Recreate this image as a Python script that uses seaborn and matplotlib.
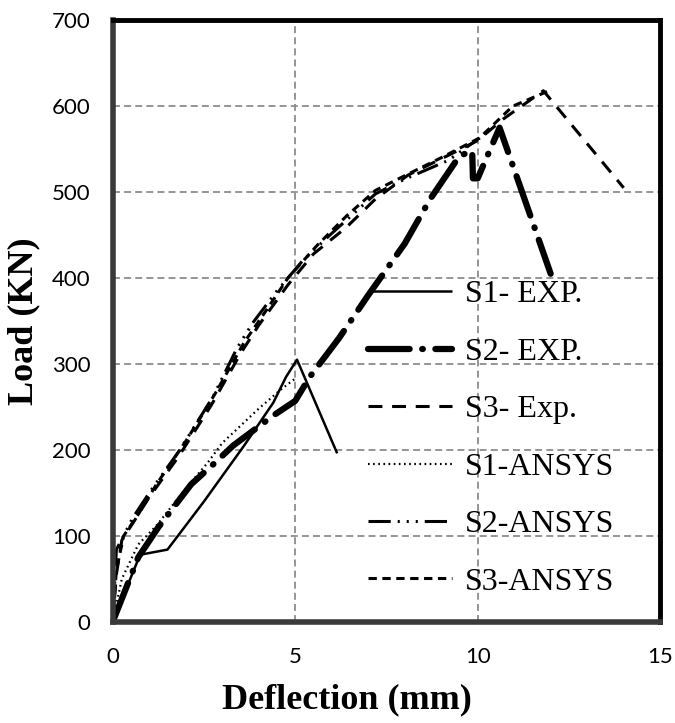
import matplotlib
matplotlib.use("Agg")
import matplotlib.pyplot as plt
import seaborn as sns
import numpy as np

# ---- data ----
s1_exp_x = [0, 0.75, 1.5, 2.5, 3.6, 4.4, 4.75, 5.05, 6.15]
s1_exp_y = [0, 78, 84, 140, 205, 255, 285, 305, 196]

s2_exp_x = [0, 0.7, 1.25, 2.15, 2.8, 3.3, 4.4, 5.0, 5.4, 6.2, 7.0, 8.0, 8.7, 9.5, 9.85, 9.87, 10.0, 10.6, 12.0]
s2_exp_y = [0, 75, 110, 160, 185, 205, 240, 257, 285, 330, 380, 440, 492, 542, 548, 516, 516, 575, 405]

s3_exp_x = [0, 0.1, 0.25, 0.6, 1.0, 1.8, 2.7, 3.5, 4.0, 4.8, 5.5, 6.4, 7.2, 8.1, 9.3, 10.0, 10.7, 11.8, 14.0]
s3_exp_y = [0, 55, 95, 118, 145, 192, 252, 312, 345, 392, 428, 459, 492, 520, 545, 560, 585, 618, 505]

s1_ans_x = [0, 0.25, 0.7, 1.2, 2.0, 2.6, 3.0, 4.0, 4.6, 5.0]
s1_ans_y = [0, 50, 90, 112, 155, 185, 208, 248, 270, 283]

s2_ans_x = [0, 0.1, 0.55, 1.0, 1.84, 2.75, 3.4, 3.84, 4.5, 5.2, 5.95, 7.2, 8.0, 9.2, 10.05]
s2_ans_y = [0, 84, 121, 150, 200, 262, 318, 348, 385, 420, 450, 498, 515, 537, 563]

s3_ans_x = [0, 0.1, 0.3, 0.7, 1.2, 2.0, 2.8, 3.6, 4.2, 4.8, 5.6, 6.4, 7.2, 7.95, 9.0, 10.05, 10.96, 11.9]
s3_ans_y = [0, 60, 100, 125, 160, 210, 265, 325, 362, 400, 438, 472, 502, 518, 540, 563, 600, 617]

labels = ["S1- EXP.", "S2- EXP.", "S3- Exp.", "S1-ANSYS", "S2-ANSYS", "S3-ANSYS"]
x_ticks = [0, 5, 10, 15]
y_ticks = [0, 100, 200, 300, 400, 500, 600, 700]

# ---- styling ----
sns.set_theme(style="white")
plt.rcParams["lines.scale_dashes"] = False

fig = plt.figure(figsize=(6.75, 7.23), dpi=100)
ax = fig.add_axes([0.167, 0.140, 0.811, 0.832])

series = [
    (s1_exp_x, s1_exp_y, 1.8, None, "butt"),
    (s2_exp_x, s2_exp_y, 4.5, (0, (30, 9, 0.5, 9)), "round"),
    (s3_exp_x, s3_exp_y, 2.2, (0, (10, 7)), "butt"),
    (s1_ans_x, s1_ans_y, 1.6, (0, (1.2, 2.5)), "butt"),
    (s2_ans_x, s2_ans_y, 2.2, (0, (16, 5, 1.5, 5, 1.5, 5, 1.5, 5)), "butt"),
    (s3_ans_x, s3_ans_y, 2.2, (0, (6, 4)), "butt"),
]

for (xs, ys, lw, dash, cap), lab in zip(series, labels):
    sns.lineplot(x=xs, y=ys, ax=ax, sort=False, estimator=None,
                 color="black", lw=lw, label=lab)
    line = ax.lines[-1]
    if dash is not None:
        line.set_linestyle(dash)
    line.set_dash_capstyle(cap)
    line.set_solid_capstyle("butt")

ax.set_xlim(0, 15)
ax.set_ylim(0, 700)
ax.set_xticks(x_ticks)
ax.set_yticks(y_ticks)
ax.grid(True, color="#8c8c8c", linestyle=(0, (5, 3)), linewidth=1.3)
ax.set_axisbelow(True)

tick_font = {"family": "Lato", "size": 16}
ax.set_xticklabels([str(t) for t in x_ticks], fontdict=tick_font)
ax.set_yticklabels([str(t) for t in y_ticks], fontdict=tick_font)
ax.tick_params(axis="x", length=0, pad=18, colors="black")
ax.tick_params(axis="y", length=0, pad=16, colors="black")

ax.set_xlabel("Deflection (mm)", fontfamily="Liberation Serif", fontweight="bold",
              fontsize=26, color="black")
ax.set_ylabel("Load (KN)", fontfamily="Liberation Serif", fontweight="bold",
              fontsize=26, color="black")
ax.xaxis.set_label_coords(0.428, -0.103)
ax.yaxis.set_label_coords(-0.133, 0.5)

for side in ["top", "right"]:
    ax.spines[side].set_color("black")
    ax.spines[side].set_linewidth(3.5)
for side in ["left", "bottom"]:
    ax.spines[side].set_color("#3a3a3a")
    ax.spines[side].set_linewidth(4)

leg = ax.legend(loc="center left", bbox_to_anchor=(0.466, 0.305), frameon=False,
                prop={"family": "Liberation Serif", "size": 23},
                handlelength=2.65, handletextpad=0.4, labelspacing=0.88,
                borderpad=0, borderaxespad=0)
for t in leg.get_texts():
    t.set_color("black")

fig.savefig("out.png", dpi=100, facecolor="white")
